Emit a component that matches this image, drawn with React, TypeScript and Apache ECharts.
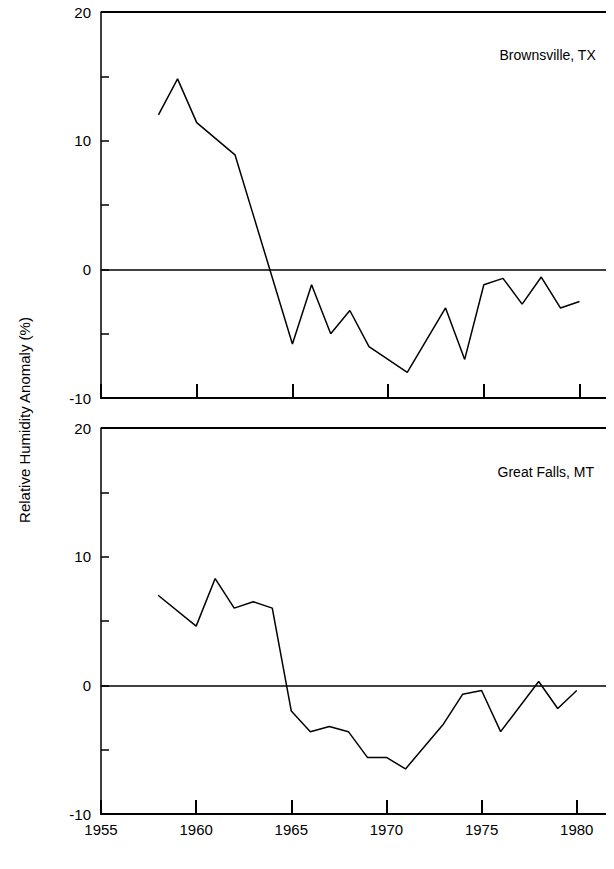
import React, { useRef, useEffect } from 'react';
import * as echarts from 'echarts';

const topData: [number, number][] = [
  [1958, 12], [1959, 14.8], [1960, 11.4], [1962, 8.9], [1965, -5.8], [1966, -1.2],
  [1967, -5], [1968, -3.2], [1969, -6], [1971, -8], [1973, -3], [1974, -7],
  [1975, -1.2], [1976, -0.7], [1977, -2.7], [1978, -0.6], [1979, -3], [1980, -2.5],
];
const bottomData: [number, number][] = [
  [1958, 7], [1960, 4.6], [1961, 8.3], [1962, 6], [1963, 6.5], [1964, 6],
  [1965, -2], [1966, -3.6], [1967, -3.2], [1968, -3.6], [1969, -5.6], [1970, -5.6],
  [1971, -6.5], [1973, -3], [1974, -0.7], [1975, -0.4], [1976, -3.6], [1978, 0.3],
  [1979, -1.8], [1980, -0.4],
];
const stations = ['Brownsville, TX', 'Great Falls, MT'];

const FONT = 'Liberation Sans';

const App: React.FC = () => {
  const ref = useRef<HTMLDivElement>(null);

  useEffect(() => {
    const chart = echarts.init(ref.current, null, { renderer: 'svg' });
    const grids = [
      { left: 101, right: -2, top: 12, height: 386 },
      { left: 101, right: -2, top: 428, height: 386 },
    ];
    const xAxis = grids.map((_, i) => ({
      type: 'value',
      gridIndex: i,
      min: 1955,
      max: 1981.8,
      interval: 5,
      axisLine: { show: true, onZero: false, lineStyle: { color: '#000', width: 2 } },
      axisTick: { show: true, inside: true, length: 14, lineStyle: { color: '#000', width: 2 } },
      axisLabel: {
        show: i === 1, color: '#000', fontFamily: FONT, fontSize: 15, margin: 8,
        formatter: (v: number) => (v % 5 === 0 && v <= 1980 ? String(v) : ''),
      },
      splitLine: { show: false },
    }));
    const yAxis = grids.map((_, i) => ({
      type: 'value',
      gridIndex: i,
      min: -10,
      max: 20,
      interval: 5,
      axisLine: { show: true, lineStyle: { color: '#000', width: 1.5 } },
      axisTick: { show: true, inside: true, length: 8, lineStyle: { color: '#000', width: 1.5 } },
      axisLabel: {
        color: '#000', fontFamily: FONT, fontSize: 15, margin: 10,
        formatter: (v: number) => (v % 10 === 0 ? String(v) : ''),
      },
      splitLine: { show: false },
    }));
    const series: any[] = [topData, bottomData].map((d, i) => ({
      type: 'line',
      xAxisIndex: i,
      yAxisIndex: i,
      data: d,
      symbol: 'none',
      lineStyle: { color: '#000', width: 1.5 },
      markLine: {
        silent: true,
        symbol: 'none',
        label: { show: false },
        lineStyle: { color: '#000', width: 1.5, type: 'solid' },
        data: [{ yAxis: 0 }],
      },
    }));
    // top border line of each panel
    [0, 1].forEach((i) => {
      series.push({
        type: 'line', xAxisIndex: i, yAxisIndex: i, data: [[1955, 20], [1981.8, 20]],
        symbol: 'none', lineStyle: { color: '#000', width: 2 }, silent: true,
      });
    });
    chart.setOption({
      animation: false,
      grid: grids,
      xAxis,
      yAxis,
      series,
      graphic: [
        { type: 'text', right: 18, top: 48, style: { text: stations[0], font: `14px ${FONT}`, fill: '#000' } },
        { type: 'text', right: 20, top: 465, style: { text: stations[1], font: `14px ${FONT}`, fill: '#000' } },
        {
          type: 'text', x: 24, y: 420, rotation: Math.PI / 2, originX: 0, originY: 0,
          style: { text: 'Relative Humidity Anomaly (%)', font: `15px ${FONT}`, fill: '#000', align: 'center', verticalAlign: 'middle' },
        },
      ],
    });
    return () => chart.dispose();
  }, []);

  return <div ref={ref} style={{ width: 614, height: 869, margin: -8 }} />;
};

export default App;
